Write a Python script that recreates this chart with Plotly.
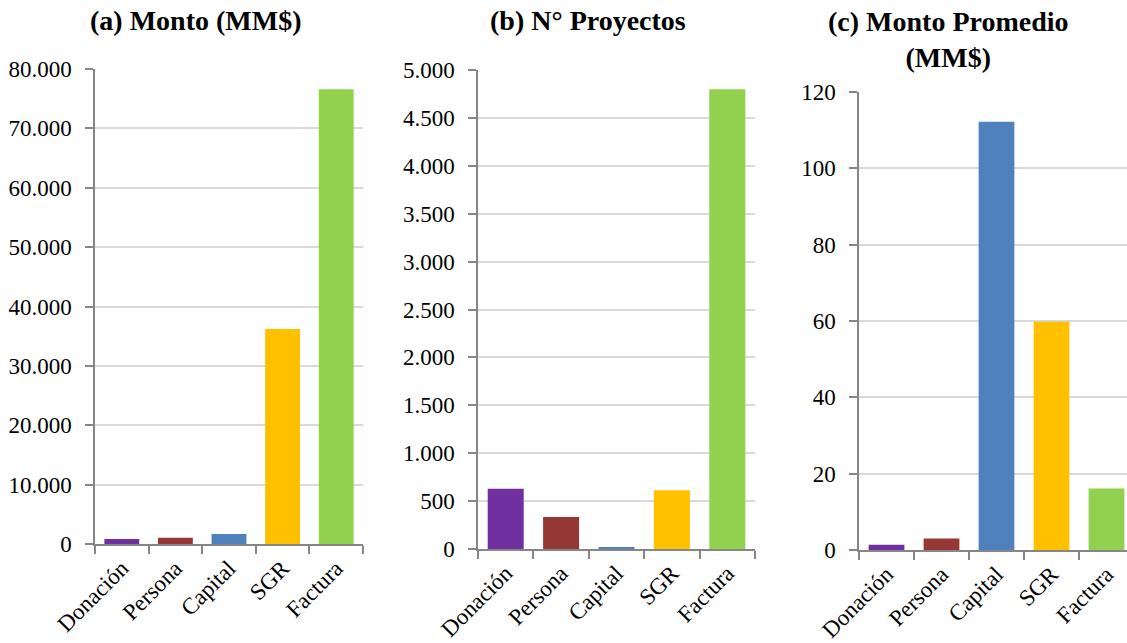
import plotly.graph_objects as go

# Categories and series values
categorias = ["Donación", "Persona", "Capital", "SGR", "Factura"]
monto_mm = [840, 1060, 1690, 36200, 76600]
n_proyectos = [630, 335, 15, 612, 4800]
monto_promedio = [1.4, 3.0, 112.2, 59.8, 16.1]
colores = ["#7030A0", "#953735", "#4F81BD", "#FFC000", "#92D050"]

W, H = 1127, 643
FONT = "Liberation Serif, Times New Roman, serif"


def px_x(p):
    return p / W


def px_y(p):
    return 1 - p / H


fig = go.Figure()
for vals, ax in [(monto_mm, ("x", "y")), (n_proyectos, ("x2", "y2")),
                 (monto_promedio, ("x3", "y3"))]:
    fig.add_trace(go.Bar(x=categorias, y=vals, marker=dict(color=colores, line=dict(width=0)),
                         xaxis=ax[0], yaxis=ax[1], showlegend=False))

xcommon = dict(type="category", showline=True, linecolor="#868686", linewidth=1.5,
               ticks="outside", ticklen=8, tickcolor="#868686", tickwidth=1.5,
               tickson="boundaries", tickangle=-45, showgrid=False, automargin=False,
               tickfont=dict(family=FONT, size=23, color="#000000"))
ycommon = dict(showline=True, linecolor="#868686", linewidth=1.5, ticks="outside",
               ticklen=8, tickcolor="#868686", tickwidth=1.5, showgrid=True,
               gridcolor="#d9d9d9", gridwidth=1.5, zeroline=False, automargin=False,
               ticklabelstandoff=9,
               tickfont=dict(family=FONT, size=23, color="#000000"))

fig.update_layout(
    width=W, height=H, margin=dict(l=0, r=0, t=0, b=0),
    paper_bgcolor="white", plot_bgcolor="white", bargap=0.35,
    separators=",.",
    xaxis=dict(xcommon, domain=[px_x(95), px_x(363)], anchor="y", range=[-0.5, 4.5]),
    yaxis=dict(ycommon, domain=[px_y(544), px_y(69)], anchor="x", range=[0, 80000],
               dtick=10000, tickformat=",d"),
    xaxis2=dict(xcommon, domain=[px_x(478), px_x(755)], anchor="y2", range=[-0.5, 4.5]),
    yaxis2=dict(ycommon, domain=[px_y(549), px_y(70)], anchor="x2", range=[0, 5000],
                dtick=500, tickformat=",d"),
    xaxis3=dict(xcommon, domain=[px_x(859), 1.0], anchor="y3",
                range=[-0.5, -0.5 + (W - 859) / 55.0]),
    yaxis3=dict(ycommon, domain=[px_y(550), px_y(92)], anchor="x3", range=[0, 120],
                dtick=20),
)

titulos = [
    ("<b>(a) Monto (MM$)</b>", 195, 21),
    ("<b>(b) N° Proyectos</b>", 588, 21),
    ("<b>(c) Monto Promedio<br>(MM$)</b>", 948, 40),
]
for texto, cx, cy in titulos:
    fig.add_annotation(text=texto, x=px_x(cx), y=px_y(cy), xref="paper", yref="paper",
                       showarrow=False, xanchor="center", yanchor="middle",
                       font=dict(family=FONT, size=28, color="#000000"))

fig.write_html("out.html")
